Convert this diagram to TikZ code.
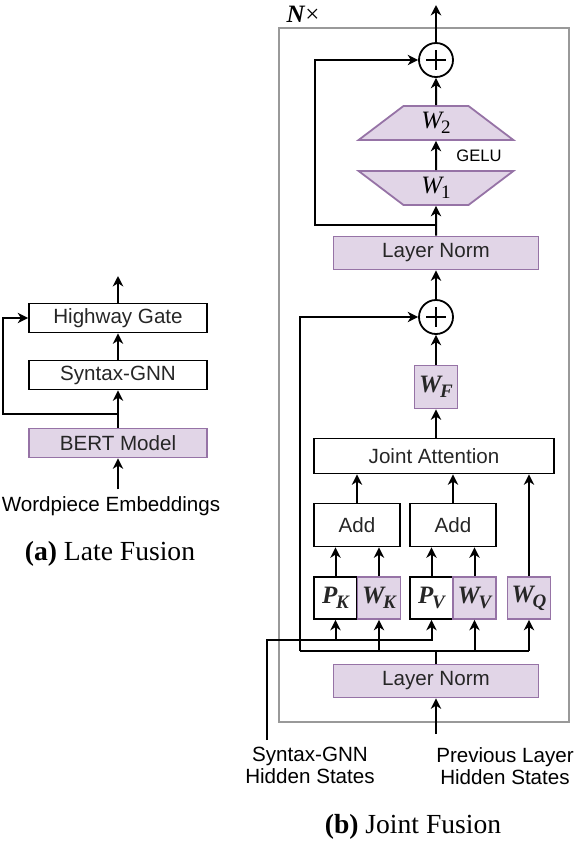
\documentclass[tikz,border=0pt]{standalone}
\usepackage{fontspec}
\setmainfont{Liberation Sans}
\newfontfamily\capfont{Liberation Serif}
\usetikzlibrary{arrows.meta, shapes.geometric, calc}
\definecolor{lilac}{HTML}{E1D5E7}
\definecolor{lilacline}{HTML}{9673A6}
\definecolor{framegray}{HTML}{999999}
\newcommand{\wsym}[2]{{\capfont\fontsize{12.5}{13}\selectfont\bfseries\itshape #1\kern-0.6pt\raisebox{-2.6pt}{\fontsize{9.5}{10}\selectfont #2}}}
\newcommand{\wnum}[2]{{\capfont\fontsize{12.5}{13}\selectfont\itshape #1\kern-0.6pt\raisebox{-2.6pt}{\fontsize{9.5}{10}\selectfont\upshape #2}}}

\begin{document}
\begin{tikzpicture}[x=0.5pt, y=-0.5pt, font=\fontsize{10.3}{12}\selectfont,
  >={Stealth[length=5.2pt, width=5.2pt, inset=1.6pt]},
  box/.style={draw, line width=0.9pt, inner sep=0pt, minimum height=14.5pt, text=black!85},
  lilacbox/.style={box, draw=lilacline, fill=lilac},
  trap/.style={trapezium, trapezium stretches=true, trapezium angle=47, draw=lilacline, fill=lilac,
    line width=0.9pt, minimum width=77.5pt, minimum height=17pt, inner sep=0pt},
  plus/.style={circle, draw, line width=0.9pt, minimum size=17pt, inner sep=0pt},
  link/.style={->, line width=1pt},
  wire/.style={line width=1pt},
  capt/.style={font=\capfont\fontsize{13.8}{16}\selectfont}]
\useasboundingbox (0,0) rectangle (574,842);

% (a) late fusion
\node[lilacbox, minimum width=89pt] (bert) at (118,443) {BERT Model};
\node[box, minimum width=89pt] (gnn) at (118,375) {Syntax-GNN};
\node[box, minimum width=89pt] (hg) at (118,318) {Highway Gate};
\node (wp) at (111,506) {Wordpiece Embeddings};
\coordinate (hgout) at (118,276);
\coordinate (skipa) at (118,414);
\draw[link] (wp.north -| bert) -- (bert);
\draw[link] (bert) -- (gnn);
\draw[link] (gnn) -- (hg);
\draw[link] (hg) -- (hgout);
\draw[link] (skipa) -- (3,414) |- (hg);
\node[capt] (capa) at (110,554) {\textbf{(a)} Late Fusion};

% (b) joint fusion
\draw[framegray, line width=1pt] (279,28) rectangle (569,722);
\node[font=\capfont\fontsize{12.5}{14}\selectfont] (nx) at (303,14) {\textbf{\textit{N}}×};

\node[lilacbox, minimum width=102.5pt, minimum height=16.5pt] (lnb) at (436,681) {Layer Norm};
\node[box, minimum width=21.5pt, minimum height=21pt] (pk) at (335.5,598) {\wsym{P}{K}};
\node[lilacbox, minimum width=21.5pt, minimum height=21pt] (wk) at (379,598) {\wsym{W}{K}};
\node[box, minimum width=21.5pt, minimum height=21pt] (pv) at (431.5,598) {\wsym{P}{V}};
\node[lilacbox, minimum width=21.5pt, minimum height=21pt] (wv) at (474.5,598) {\wsym{W}{V}};
\node[lilacbox, minimum width=21.5pt, minimum height=21pt] (wq) at (529,598) {\wsym{W}{Q}};
\node[box, minimum width=43pt, minimum height=21.5pt] (adda) at (357,525) {Add};
\node[box, minimum width=43pt, minimum height=21.5pt] (addb) at (453,525) {Add};
\node[box, minimum width=120pt, minimum height=17.5pt] (ja) at (434,456) {Joint Attention};
\node[lilacbox, minimum width=21.5pt, minimum height=21.5pt] (wf) at (436,387) {\wsym{W}{F}};
\node[plus] (plusb) at (436,317) {};
\node[lilacbox, minimum width=102.5pt, minimum height=16.5pt] (lna) at (436,253) {Layer Norm};
\node[trap, shape border rotate=180] (w1) at (436,188) {\wnum{W}{1}};
\node[trap] (w2) at (436,123) {\wnum{W}{2}};
\node[plus] (plusa) at (436,60) {};
\node[font=\fontsize{8.3}{10}\selectfont] (gelu) at (479,156) {GELU};
\foreach \p in {plusa,plusb} {
  \draw[line width=0.9pt] ([xshift=-4.8pt]\p.center) -- ([xshift=4.8pt]\p.center)
    ([yshift=-4.8pt]\p.center) -- ([yshift=4.8pt]\p.center);
}

\coordinate (top) at (436,5);
\coordinate (skipb) at (436,225);
\coordinate (busl) at (300,651);
\coordinate (busr) at (529,651);
\coordinate (gnnin) at (267,740);
\coordinate (sbus) at (267,640);
\coordinate (previn) at (436,734);

\draw[link] (previn) -- (lnb);
\draw[wire] (lnb) -- (lnb |- busl);
\draw[wire] (busl) -- (busr);
\draw[link] (busr) -- (wq);
\draw[link] (wk |- busl) -- (wk);
\draw[link] (wv |- busl) -- (wv);
\draw[link] (gnnin) -- (sbus) -| (pv);
\draw[link] (pk |- sbus) -- (pk);
\draw[link] (pk) -- (pk |- adda.south);
\draw[link] (wk) -- (wk |- adda.south);
\draw[link] (pv) -- (pv |- addb.south);
\draw[link] (wv) -- (wv |- addb.south);
\draw[link] (adda) -- (adda |- ja.south);
\draw[link] (addb) -- (addb |- ja.south);
\draw[link] (wq) -- (wq |- ja.south);
\draw[link] (ja.north -| wf) -- (wf);
\draw[link] (wf) -- (plusb);
\draw[link] (busl) |- (plusb);
\draw[link] (plusb) -- (lna);
\draw[link] (lna) -- (w1);
\draw[link] (w1) -- (w2);
\draw[link] (w2) -- (plusa);
\draw[link] (plusa) -- (top);
\draw[link] (skipb) -- (315,225) |- (plusa);

\node[align=center, anchor=north, font=\fontsize{10.3}{11}\selectfont] (gnntxt) at (310,740) {Syntax-GNN\\Hidden States};
\node[align=center, anchor=north, font=\fontsize{10.3}{11}\selectfont] (prevtxt) at (505,740) {Previous Layer\\Hidden States};
\node[capt] (capb) at (413,827) {\textbf{(b)} Joint Fusion};
\end{tikzpicture}
\end{document}
